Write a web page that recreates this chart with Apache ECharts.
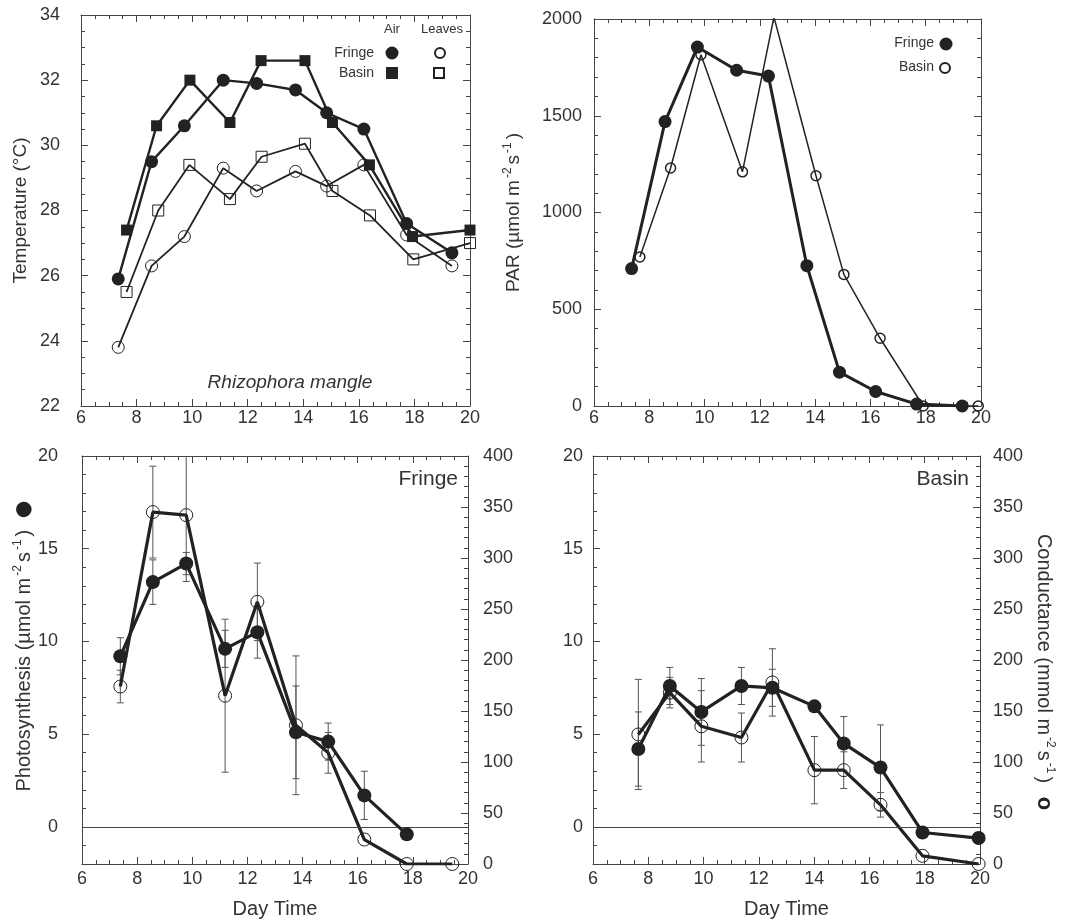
<!DOCTYPE html>
<html>
<head>
<meta charset="utf-8">
<title>Rhizophora mangle – temperature, PAR, photosynthesis</title>
<script src="https://cdn.jsdelivr.net/npm/echarts@6/dist/echarts.min.js"></script>
<style>
    html, body { margin: 0; padding: 0; background: #fff; }
    #chart { width: 1066px; height: 921px; }
</style>
</head>
<body>
<div id="chart"></div>
<script>
// ---- data ----
// top left: temperature (°C)
const fringeTimes = [7.34, 8.54, 9.72, 11.12, 12.32, 13.72, 14.84, 16.18, 17.72, 19.35]
const fringeAirTemp = [25.9, 29.5, 30.6, 32.0, 31.9, 31.7, 31.0, 30.5, 27.6, 26.7]
const fringeLeafTemp = [23.8, 26.3, 27.2, 29.3, 28.6, 29.2, 28.75, 29.4, 27.25, 26.3]
const basinAirTimes = [7.64, 8.72, 9.92, 11.36, 12.48, 14.06, 15.05, 16.38, 17.93, 20.0]
const basinAirTemp = [27.4, 30.6, 32.0, 30.7, 32.6, 32.6, 30.7, 29.4, 27.2, 27.4]
const basinLeafTimes = [7.64, 8.78, 9.9, 11.36, 12.5, 14.06, 15.05, 16.4, 17.96, 20.0]
const basinLeafTemp = [25.5, 28.0, 29.4, 28.35, 29.65, 30.05, 28.6, 27.85, 26.5, 27.0]

// top right: PAR (µmol m-2 s-1)
const parFringeTimes = [7.36, 8.57, 9.74, 11.16, 12.31, 13.7, 14.88, 16.19, 17.67, 19.32]
const parFringe = [710, 1470, 1855, 1735, 1705, 725, 175, 75, 10, 0]
const parBasinTimes = [7.66, 8.77, 9.87, 11.37, 12.51, 14.03, 15.04, 16.35, 17.91, 19.9]
const parBasin = [770, 1230, 1815, 1210, 2010, 1190, 680, 350, 0, 0]

// bottom left: fringe photosynthesis (left axis) and conductance (right axis)
const fringeGasTimes = [7.39, 8.57, 9.78, 11.19, 12.36, 13.76, 14.93, 16.24, 17.78, 19.43]
const fringePhoto = [9.2, 13.2, 14.2, 9.6, 10.5, 5.1, 4.6, 1.7, -0.4]
const fringePhotoErr = [1.0, 1.2, 0.6, 1.0, 1.4, 2.5, 1.0, 1.3, 0]
const fringeCond = [174, 345, 342, 165, 257, 136, 109, 24, 0, 0]
const fringeCondErr = [16, 45, 65, 75, 38, 68, 20, 0, 0, 0]

// bottom right: basin photosynthesis and conductance
const basinGasTimes = [7.64, 8.78, 9.92, 11.37, 12.49, 14.01, 15.07, 16.4, 17.92, 19.95]
const basinPhoto = [4.2, 7.6, 6.2, 7.6, 7.5, 6.5, 4.5, 3.2, -0.3, -0.6]
const basinPhotoErr = [2.0, 1.0, 1.8, 1.0, 1.0, 0.3, 1.45, 2.3, 0, 0]
const basinCond = [127, 168, 135, 124, 178, 92, 92, 58, 8, 0]
const basinCondErr = [54, 15, 35, 24, 33, 33, 18, 12, 0, 0]

// tick labels
const timeTicks = [6, 8, 10, 12, 14, 16, 18, 20]

// ---- helpers ----
const FONT = '"Liberation Sans", Arial, sans-serif'
const INK = '#222'
const AXIS = '#444'

function pairs(xs, ys) {
    return ys.map((y, i) => [xs[i], y])
}

function errBars(xs, ys, errs) {
    const out = []
    ys.forEach((y, i) => {
        if (errs[i] > 0) out.push([xs[i], y - errs[i], y + errs[i]])
    })
    return out
}

const nameRich = {
    sup: { fontSize: 12, verticalAlign: 'top', lineHeight: 24, fontFamily: FONT, color: '#333', padding: [0, 3, 0, 2] },
    dot: { fontSize: 36, lineHeight: 24, fontFamily: FONT, color: INK, padding: [0, 0, 0, 4] },
    ring: { fontSize: 22, lineHeight: 24, fontFamily: FONT, color: INK, fontWeight: 'bold', padding: [0, 0, 0, 8] }
}

function valueAxis(gridIndex, extra) {
    const ax = {
        type: 'value',
        gridIndex: gridIndex,
        axisLine: { show: true, onZero: false, lineStyle: { color: AXIS, width: 1 } },
        axisTick: { show: true, inside: true, length: 7, lineStyle: { color: AXIS } },
        minorTick: { show: true, splitNumber: 4, length: 4, lineStyle: { color: AXIS } },
        splitLine: { show: false },
        axisLabel: { color: '#333', fontSize: 18, fontFamily: FONT },
        nameMoveOverlap: false,
        nameTextStyle: { color: '#333', fontSize: 19, fontFamily: FONT, lineHeight: 24, rich: nameRich }
    }
    for (const k in extra) {
        if (typeof extra[k] === 'object' && !Array.isArray(extra[k]) && ax[k]) {
            ax[k] = Object.assign({}, ax[k], extra[k])
        } else {
            ax[k] = extra[k]
        }
    }
    return ax
}

function timeAxis(gridIndex, top, extra) {
    return valueAxis(gridIndex, Object.assign({
        position: top ? 'top' : 'bottom',
        min: timeTicks[0],
        max: timeTicks[timeTicks.length - 1],
        interval: 2,
        axisLabel: { show: !top, margin: gridIndex > 1 ? 6 : 3 }
    }, extra || {}))
}

function lineSeries(xi, yi, data, opt) {
    return {
        type: 'line',
        xAxisIndex: xi,
        yAxisIndex: yi,
        data: data,
        symbol: opt.symbol,
        symbolSize: opt.size,
        showSymbol: true,
        clip: true,
        z: opt.z || 3,
        itemStyle: opt.filled
            ? { color: INK, borderColor: INK, borderWidth: 0 }
            : { color: 'rgba(255,255,255,0)', borderColor: INK, borderWidth: opt.border || 1 },
        lineStyle: { color: INK, width: opt.width },
        emphasis: { disabled: true }
    }
}

function errorSeries(xi, yi, data) {
    return {
        type: 'custom',
        xAxisIndex: xi,
        yAxisIndex: yi,
        data: data,
        clip: true,
        silent: true,
        z: 1,
        encode: { x: 0, y: [1, 2] },
        renderItem(params, api) {
            const x = api.value(0)
            const lo = api.coord([x, api.value(1)])
            const hi = api.coord([x, api.value(2)])
            const w = 3.5
            const style = { stroke: '#555', lineWidth: 1 }
            return {
                type: 'group',
                children: [
                    { type: 'line', shape: { x1: lo[0], y1: lo[1], x2: hi[0], y2: hi[1] }, style: style },
                    { type: 'line', shape: { x1: lo[0] - w, y1: lo[1], x2: lo[0] + w, y2: lo[1] }, style: style },
                    { type: 'line', shape: { x1: hi[0] - w, y1: hi[1], x2: hi[0] + w, y2: hi[1] }, style: style }
                ]
            }
        }
    }
}

const zeroLine = {
    silent: true,
    symbol: ['none', 'none'],
    label: { show: false },
    lineStyle: { color: '#444', width: 1, type: 'solid' },
    data: [{ yAxis: 0 }]
}

const dayTime = {
    name: 'Day Time',
    nameLocation: 'middle',
    nameGap: 33,
    nameTextStyle: { color: '#333', fontSize: 20, fontFamily: FONT }
}

// ---- chart ----
const chart = echarts.init(document.getElementById('chart'), null, { renderer: 'canvas' })

chart.setOption({
    animation: false,
    backgroundColor: '#fff',
    grid: [
        { left: 81, top: 15, width: 389, height: 391, outerBoundsMode: 'none' },
        { left: 594, top: 19, width: 387, height: 387, outerBoundsMode: 'none' },
        { left: 82, top: 456, width: 386, height: 408, outerBoundsMode: 'none' },
        { left: 593, top: 456, width: 387, height: 408, outerBoundsMode: 'none' }
    ],
    xAxis: [
        timeAxis(0, false),
        timeAxis(0, true),
        timeAxis(1, false),
        timeAxis(1, true),
        timeAxis(2, false, dayTime),
        timeAxis(2, true),
        timeAxis(3, false, dayTime),
        timeAxis(3, true)
    ],
    yAxis: [
        // 0,1: temperature
        valueAxis(0, {
            min: 22, max: 34, interval: 2,
            axisLabel: { margin: 21 },
            name: 'Temperature (°C)', nameLocation: 'middle', nameGap: 48, nameRotate: 90
        }),
        valueAxis(0, { position: 'right', min: 22, max: 34, interval: 2, axisLabel: { show: false } }),
        // 2,3: PAR
        valueAxis(1, {
            min: 0, max: 2000, interval: 500,
            minorTick: { splitNumber: 5 },
            axisLabel: { margin: 12, formatter: v => String(v) },
            name: 'PAR (µmol m{sup|-2}s{sup|-1})', nameLocation: 'middle', nameGap: 68, nameRotate: 90
        }),
        valueAxis(1, {
            position: 'right', min: 0, max: 2000, interval: 500,
            minorTick: { splitNumber: 5 }, axisLabel: { show: false }
        }),
        // 4,5: fringe photosynthesis / conductance
        valueAxis(2, {
            min: -2, max: 20,
            minorTick: { splitNumber: 5 },
            axisLabel: { margin: 24, formatter: v => (v < 0 ? '' : v) },
            name: 'Photosynthesis (µmol m{sup|-2}s{sup|-1}) {dot|●}', nameLocation: 'middle', nameGap: 46, nameRotate: 90,
            nameTextStyle: { fontSize: 20, padding: [0, 0, 0, 30] }
        }),
        valueAxis(2, {
            position: 'right', min: 0, max: 400, interval: 50,
            minorTick: { splitNumber: 5 },
            axisLabel: { margin: 15 }
        }),
        // 6,7: basin photosynthesis / conductance
        valueAxis(3, {
            min: -2, max: 20,
            minorTick: { splitNumber: 5 },
            axisLabel: { margin: 10, formatter: v => (v < 0 ? '' : v) }
        }),
        valueAxis(3, {
            position: 'right', min: 0, max: 400, interval: 50,
            minorTick: { splitNumber: 5 },
            axisLabel: { margin: 13 },
            name: 'Conductance (mmol m{sup|-2}s{sup|-1}) {ring|o}', nameLocation: 'middle', nameGap: 52, nameRotate: -90,
            nameTextStyle: { fontSize: 20, padding: [0, 0, 0, 24] }
        })
    ],
    series: [
        // temperature
        lineSeries(0, 0, pairs(fringeTimes, fringeAirTemp), { symbol: 'circle', size: 13, filled: true, width: 2.4, z: 5 }),
        lineSeries(0, 0, pairs(basinAirTimes, basinAirTemp), { symbol: 'rect', size: 11, filled: true, width: 2.4, z: 5 }),
        lineSeries(0, 0, pairs(fringeTimes, fringeLeafTemp), { symbol: 'circle', size: 12, filled: false, width: 1.8 }),
        lineSeries(0, 0, pairs(basinLeafTimes, basinLeafTemp), { symbol: 'rect', size: 11, filled: false, width: 1.8 }),
        // PAR
        lineSeries(2, 2, pairs(parFringeTimes, parFringe), { symbol: 'circle', size: 13, filled: true, width: 3, z: 5 }),
        lineSeries(2, 2, pairs(parBasinTimes, parBasin), { symbol: 'circle', size: 10, filled: false, width: 1.5, border: 1.5 }),
        // fringe gas exchange
        errorSeries(4, 4, errBars(fringeGasTimes, fringePhoto, fringePhotoErr)),
        errorSeries(4, 5, errBars(fringeGasTimes, fringeCond, fringeCondErr)),
        Object.assign(
            lineSeries(4, 4, pairs(fringeGasTimes, fringePhoto), { symbol: 'circle', size: 14, filled: true, width: 3.2, z: 5 }),
            { markLine: zeroLine }
        ),
        lineSeries(4, 5, pairs(fringeGasTimes, fringeCond), { symbol: 'circle', size: 13, filled: false, width: 3.2 }),
        // basin gas exchange
        errorSeries(6, 6, errBars(basinGasTimes, basinPhoto, basinPhotoErr)),
        errorSeries(6, 7, errBars(basinGasTimes, basinCond, basinCondErr)),
        Object.assign(
            lineSeries(6, 6, pairs(basinGasTimes, basinPhoto), { symbol: 'circle', size: 14, filled: true, width: 3.2, z: 5 }),
            { markLine: zeroLine }
        ),
        lineSeries(6, 7, pairs(basinGasTimes, basinCond), { symbol: 'circle', size: 13, filled: false, width: 3.2 })
    ],
    graphic: [
        // legend, temperature panel
        { type: 'text', left: 384, top: 23, style: { text: 'Air', fontSize: 13, fontFamily: FONT, fill: '#333' } },
        { type: 'text', left: 421, top: 23, style: { text: 'Leaves', fontSize: 13, fontFamily: FONT, fill: '#333' } },
        { type: 'text', x: 374, y: 53, style: { text: 'Fringe', fontSize: 14, fontFamily: FONT, fill: '#333', align: 'right', verticalAlign: 'middle' } },
        { type: 'text', x: 374, y: 73, style: { text: 'Basin', fontSize: 14, fontFamily: FONT, fill: '#333', align: 'right', verticalAlign: 'middle' } },
        { type: 'circle', shape: { cx: 392, cy: 53, r: 6.5 }, style: { fill: INK } },
        { type: 'circle', shape: { cx: 440, cy: 53, r: 5 }, style: { fill: 'none', stroke: INK, lineWidth: 2 } },
        { type: 'rect', shape: { x: 386, y: 67, width: 12, height: 12 }, style: { fill: INK } },
        { type: 'rect', shape: { x: 434, y: 68, width: 10, height: 10 }, style: { fill: 'none', stroke: INK, lineWidth: 2 } },
        { type: 'text', x: 290, y: 383, style: { text: 'Rhizophora mangle', fontSize: 19, fontStyle: 'italic', fontFamily: FONT, fill: '#333', align: 'center', verticalAlign: 'middle' } },
        // legend, PAR panel
        { type: 'text', x: 934, y: 43, style: { text: 'Fringe', fontSize: 14, fontFamily: FONT, fill: '#333', align: 'right', verticalAlign: 'middle' } },
        { type: 'text', x: 934, y: 67, style: { text: 'Basin', fontSize: 14, fontFamily: FONT, fill: '#333', align: 'right', verticalAlign: 'middle' } },
        { type: 'circle', shape: { cx: 946, cy: 44, r: 6.5 }, style: { fill: INK } },
        { type: 'circle', shape: { cx: 945, cy: 68, r: 5 }, style: { fill: 'none', stroke: INK, lineWidth: 2 } },
        // panel labels
        { type: 'text', x: 458, y: 479, style: { text: 'Fringe', fontSize: 21, fontFamily: FONT, fill: '#333', align: 'right', verticalAlign: 'middle' } },
        { type: 'text', x: 969, y: 479, style: { text: 'Basin', fontSize: 21, fontFamily: FONT, fill: '#333', align: 'right', verticalAlign: 'middle' } }
    ]
})
</script>
</body>
</html>
